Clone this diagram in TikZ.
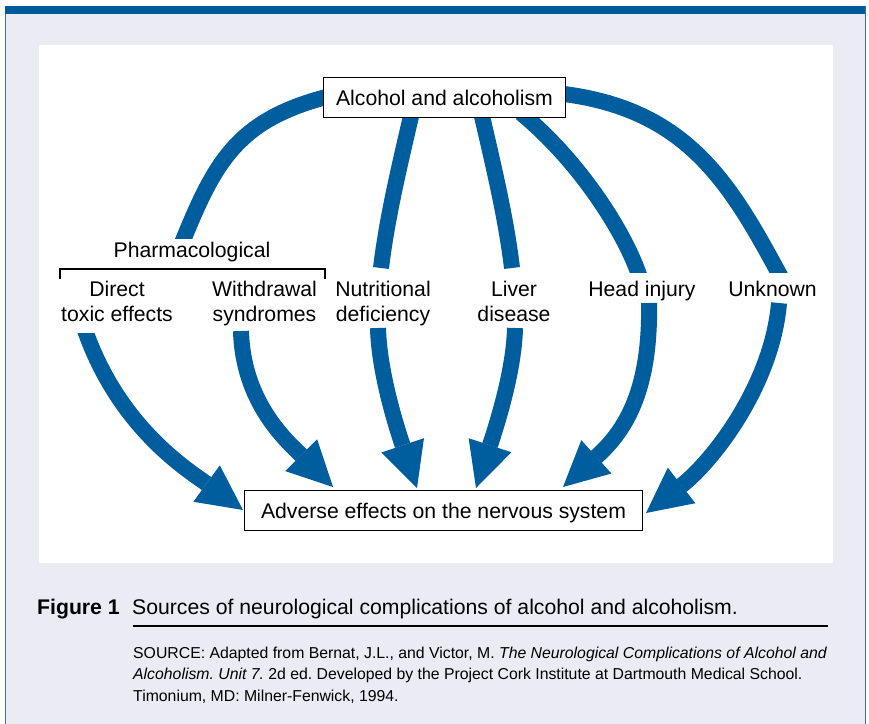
\documentclass[tikz,border=0pt]{standalone}
\usepackage{fontspec}
\setmainfont{Liberation Sans}
\usetikzlibrary{arrows.meta}
\definecolor{abl}{RGB}{0,94,158}
\definecolor{barblue}{RGB}{0,91,155}
\definecolor{lav}{RGB}{235,235,244}
\definecolor{edgeblue}{RGB}{60,110,170}
\newcommand{\lblfont}{\fontsize{21.2}{25}\selectfont}
\newcommand{\srcfont}{\fontsize{15.8}{21.5}\selectfont}
\frenchspacing
\begin{document}
\begin{tikzpicture}[x=1pt,y=-1pt,
  boxnode/.style={draw=black,line width=1.8pt,fill=white,inner sep=0pt,font=\lblfont,text height=15.2pt,text depth=0pt},
  lbl/.style={align=center,inner sep=0pt,font=\lblfont,anchor=north},
  band/.style={draw=abl,line width=16pt},
  arr/.style={band,-{Triangle[length=45pt,width=45pt,line width=0pt]}},
  capnode/.style={inner sep=0pt,anchor=base west,execute at begin node=\frenchspacing}]
\useasboundingbox (0,0) rectangle (869,723);
% background
\fill[white] (0,0) rectangle (869,723);
\filldraw[fill=lav,draw=edgeblue,line width=1pt] (5,6) rectangle (865,740);
\fill[barblue] (5,5.5) rectangle (865,14);
\fill[white] (39,45) rectangle (833,563);

% coordinates of connector ends
\coordinate (u1s) at (330,96);   \coordinate (u1e) at (184,238);
\coordinate (u2s) at (412,112);  \coordinate (u2e) at (381,268);
\coordinate (u3s) at (481,112);  \coordinate (u3e) at (512,268);
\coordinate (u4s) at (521,113);  \coordinate (u4e) at (638,272);
\coordinate (u5s) at (560,93.5); \coordinate (u5e) at (777,270);

\coordinate (l1o) at (82.6,323.6); \coordinate (l1s) at (86,333); \coordinate (l1b) at (206.5,483.5); \coordinate (l1t) at (243,510);
\coordinate (l2s) at (241,331); \coordinate (l2b) at (301,455); \coordinate (l2t) at (333,487);
\coordinate (l3s) at (378,328); \coordinate (l3b) at (402.6,445.3); \coordinate (l3t) at (417,488);
\coordinate (l4s) at (515,328); \coordinate (l4b) at (490,445.3); \coordinate (l4t) at (476,488);
\coordinate (l5s) at (649,303); \coordinate (l5b) at (596.3,456.9); \coordinate (l5t) at (563,487);
\coordinate (l6s) at (779,303); \coordinate (l6b) at (681.5,485.5); \coordinate (l6t) at (646,513);

% upper bands
\begin{scope}
\clip (0,0) rectangle (869,238);
\draw[band] (u1s) .. controls (239,119) and (216,160) .. (u1e) -- ++(-3.8,9.2);
\end{scope}
\draw[band] (u2s) .. controls (399,168) and (387,218) .. (u2e);
\draw[band] (u3s) .. controls (494,168) and (506,218) .. (u3e);
\begin{scope}
\clip (0,0) rectangle (869,272);
\draw[band] (u4s) .. controls (578,160) and (622,228) .. (u4e) -- ++(3.4,9.4);
\draw[band] (u5s) .. controls (683,108) and (727.6,178.5) .. (u5e) -- ++(4.75,8.8);
\end{scope}

% lower arrows
\begin{scope}
\clip (0,333) rectangle (869,723);
\draw[arr] (l1o) -- (l1s) .. controls (120,427) and (186,469) .. (l1b) -- (l1t);
\end{scope}
\draw[arr] (l2s) .. controls (243,403) and (287,441) .. (l2b) -- (l2t);
\draw[arr] (l3s) .. controls (379,370) and (394.6,421.5) .. (l3b) -- (l3t);
\draw[arr] (l4s) .. controls (514,370) and (497.8,421.5) .. (l4b) -- (l4t);
\draw[arr] (l5s) .. controls (650.8,395) and (622.2,433.4) .. (l5b) -- (l5t);
\draw[arr] (l6s) .. controls (772,385) and (713,461) .. (l6b) -- (l6t);

% boxes
\node[boxnode,minimum width=242pt,minimum height=40pt] (top) at (444.5,97.5) {Alcohol and alcoholism};
\node[boxnode,minimum width=398pt,minimum height=40pt] (bot) at (443.5,510.5) {Adverse effects on the nervous system};

% labels
\node[lbl,anchor=base] (pharm) at (192,257) {Pharmacological};
\coordinate (brA) at (60,279); \coordinate (brB) at (60,269);
\coordinate (brC) at (325,269); \coordinate (brD) at (325,279);
\draw[line width=1.8pt] (brA) -- (brB) -- (brC) -- (brD);
\node[lbl] (direct) at (117,281) {Direct\\toxic effects};
\node[lbl] (withd) at (264.5,281) {Withdrawal\\syndromes};
\node[lbl] (nutr) at (383,281) {Nutritional\\deficiency};
\node[lbl] (liver) at (514,281) {Liver\\disease};
\node[lbl] (head) at (642,281) {Head injury};
\node[lbl] (unk) at (772.5,281) {Unknown};

% caption
\node[capnode,font=\lblfont] (figlab) at (37,614) {\textbf{Figure 1}};
\node[capnode,font=\lblfont] (figcap) at (132,614) {Sources of neurological complications of alcohol and alcoholism.};
\coordinate (ruleA) at (133,626); \coordinate (ruleB) at (828,626);
\draw[line width=1.3pt] (ruleA) -- (ruleB);
\node[capnode,font=\srcfont] (src1) at (133,658) {SOURCE: Adapted from Bernat, J.L., and Victor, M. {\itshape The Neurological Complications of Alcohol and}};
\node[capnode,font=\srcfont] (src2) at (133,679.5) {{\itshape Alcoholism. Unit 7.} 2d ed. Developed by the Project Cork Institute at Dartmouth Medical School.};
\node[capnode,font=\srcfont] (src3) at (133,701) {Timonium, MD: Milner-Fenwick, 1994.};
\end{tikzpicture}
\end{document}
